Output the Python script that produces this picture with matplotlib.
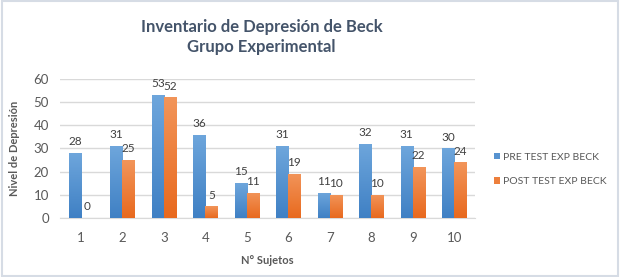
import numpy as np
import matplotlib.pyplot as plt
from matplotlib.colors import LinearSegmentedColormap
from matplotlib.patches import Rectangle

plt.rcParams['font.family'] = ['Lato', 'DejaVu Sans']

sujetos = ['1', '2', '3', '4', '5', '6', '7', '8', '9', '10']
pre_test = [28, 31, 53, 36, 15, 31, 11, 32, 31, 30]
post_test = [0, 25, 52, 5, 11, 19, 10, 10, 22, 24]
series_names = ['PRE TEST EXP BECK', 'POST TEST EXP BECK']

fig = plt.figure(figsize=(6.2, 2.77), dpi=100)
fig.patch.set_facecolor('white')
# marco del grafico
fig.patches.append(Rectangle((0.003, 0.005), 0.994, 0.99, transform=fig.transFigure,
                             fill=False, edgecolor='#D6DCE5', linewidth=1.5))

ax = fig.add_axes([0.097, 0.213, 0.669, 0.502])
x = np.arange(len(sujetos))
w = 0.29

blue_cm = LinearSegmentedColormap.from_list('b', ['#3F80C4', '#6EA6DC'])
orange_cm = LinearSegmentedColormap.from_list('o', ['#E8691E', '#F2955A'])

def gradient_bars(xs, vals, cmap, label):
    bars = ax.bar(xs, vals, w, color=cmap(0.5), label=label, zorder=2)
    grad = np.linspace(0, 1, 256).reshape(-1, 1)
    for b in bars:
        h = b.get_height()
        if h <= 0:
            continue
        x0 = b.get_x()
        im = ax.imshow(grad, cmap=cmap, origin='lower', aspect='auto',
                       extent=(x0, x0 + b.get_width(), 0, h), zorder=3)
        im.set_clip_path(b)
    return bars

b1 = gradient_bars(x - w / 2, pre_test, blue_cm, series_names[0])
b2 = gradient_bars(x + w / 2, post_test, orange_cm, series_names[1])

for xs, vals in ((x - w / 2, pre_test), (x + w / 2, post_test)):
    for xi, v in zip(xs, vals):
        ax.text(xi, v + 2.5, str(v), ha='center', va='bottom', fontsize=8.5,
                color='#404040', zorder=4)

ax.set_xlim(-0.5, len(sujetos) - 0.5)
ax.set_ylim(0, 60)
ax.set_yticks(range(0, 61, 10))
ax.set_xticks(x)
ax.set_xticklabels(sujetos)
ax.grid(axis='y', color='#D9D9D9', linewidth=1, zorder=0)
ax.set_axisbelow(True)
for s in ['top', 'right', 'left']:
    ax.spines[s].set_visible(False)
ax.spines['bottom'].set_color('#D9D9D9')
ax.tick_params(length=0, colors='#595959', labelsize=9.5, pad=8)
ax.tick_params(axis='x', pad=10)

ax.set_ylabel('Nivel de Depresión', fontsize=8, fontweight='bold', color='#595959', labelpad=10)
ax.set_xlabel('N° Sujetos', fontsize=8, fontweight='bold', color='#595959', labelpad=8)

fig.text(0.422, 0.868, 'Inventario de Depresión de Beck\nGrupo Experimental', ha='center',
         va='center', fontsize=12, fontweight='bold', color='#44546A', linespacing=1.3)

ax.legend(loc='center left', bbox_to_anchor=(1.035, 0.35), frameon=False, fontsize=7.5,
          labelcolor='#595959', handlelength=0.6, handleheight=0.6, handletextpad=0.35,
          labelspacing=1.45, borderaxespad=0)

fig.savefig('out.png', dpi=100, facecolor='white')
